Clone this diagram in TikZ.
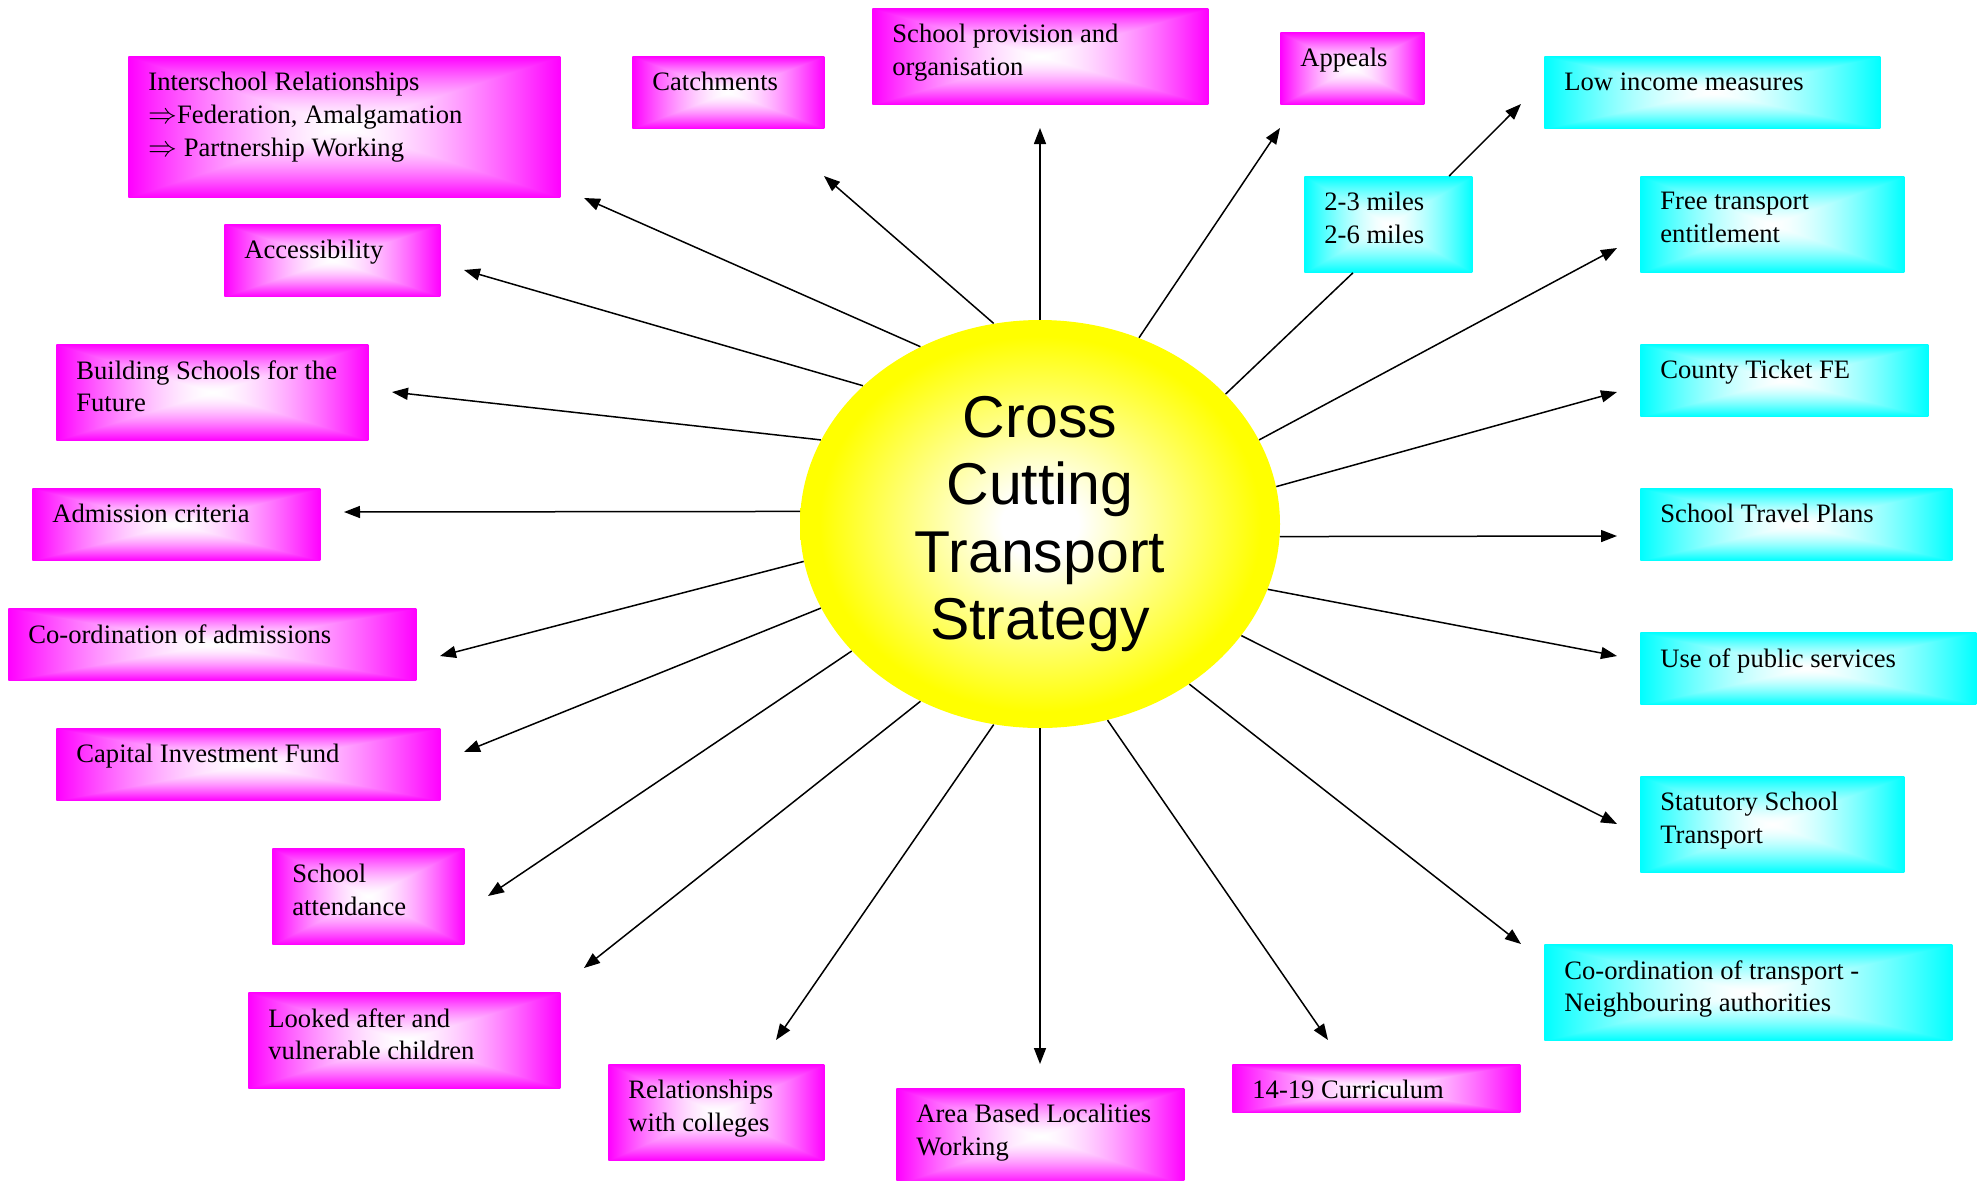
\documentclass[tikz,border=0pt]{standalone}
\usepackage{fontspec}
\setmainfont{Liberation Serif}
\newfontfamily\hubfont{Liberation Sans}
\usepackage{tikz}
\usetikzlibrary{arrows.meta,calc,shapes.geometric}

\definecolor{hubyellow}{RGB}{255,255,0}

% box fills: white in the middle, full colour at the edges
% (only the middle 50bp square of a shading ends up inside the path)
\pgfdeclarefunctionalshading{pinkfill}{\pgfpoint{-50bp}{-50bp}}{\pgfpoint{50bp}{50bp}}{}{
  abs exch abs 2 copy lt {exch} if pop 25 div
  dup 1 gt {pop 1} if dup sqrt mul
  1 exch sub 1 exch 1
}
\pgfdeclarefunctionalshading{cyanfill}{\pgfpoint{-50bp}{-50bp}}{\pgfpoint{50bp}{50bp}}{}{
  abs exch abs 2 copy lt {exch} if pop 25 div
  dup 1 gt {pop 1} if dup sqrt mul
  1 exch sub 1 1
}
\pgfdeclareradialshading{hubfill}{\pgfpointorigin}{color(0bp)=(white); color(4bp)=(white); color(23bp)=(hubyellow); color(50bp)=(hubyellow)}

\tikzset{
  pinkbox/.style={shade,shading=pinkfill,anchor=north west,inner sep=0pt},
  cyanbox/.style={shade,shading=cyanfill,anchor=north west,inner sep=0pt},
  boxsize/.style 2 args={minimum width=#1*0.5pt,minimum height=#2*0.5pt},
  boxtext/.style={anchor=north west,inner sep=0pt,align=left,font=\fontsize{13.3}{16.3}\selectfont},
  spoke/.style={line width=0.75pt,-{Triangle[length=8pt,width=6pt]}},
}

\begin{document}
\begin{tikzpicture}[x=0.5pt,y=0.5pt,yscale=-1]
\useasboundingbox (0,0) rectangle (1982,1180);

%Shape: Ellipse [hub]
\node[ellipse,shade,shading=hubfill,minimum width=240pt,minimum height=204pt,inner sep=0pt,
  align=center,font=\hubfont\fontsize{29.5}{33.7}\selectfont] (hub) at (1040,524)
  {Cross\\Cutting\\Transport\\Strategy};

%Shape: Boxes, left side and bottom
\node[pinkbox,boxsize={432}{141}] (inter) at (128,56) {};
\node[pinkbox,boxsize={192}{72}] (catch) at (632,56) {};
\node[pinkbox,boxsize={336}{96}] (prov) at (872,8) {};
\node[pinkbox,boxsize={144}{72}] (appeals) at (1280,32) {};
\node[pinkbox,boxsize={216}{72}] (access) at (224,224) {};
\node[pinkbox,boxsize={312}{96}] (bsf) at (56,344) {};
\node[pinkbox,boxsize={288}{72}] (admcrit) at (32,488) {};
\node[pinkbox,boxsize={408}{72}] (coadm) at (8,608) {};
\node[pinkbox,boxsize={384}{72}] (capital) at (56,728) {};
\node[pinkbox,boxsize={192}{96}] (attend) at (272,848) {};
\node[pinkbox,boxsize={312}{96}] (lac) at (248,992) {};
\node[pinkbox,boxsize={216}{96}] (colleges) at (608,1064) {};
\node[pinkbox,boxsize={288}{96}] (area) at (896,1088) {};
\node[pinkbox,boxsize={288}{48}] (curric) at (1232,1064) {};

%Shape: Boxes, right side
\node[cyanbox,boxsize={336}{72}] (lowinc) at (1544,56) {};
\node[cyanbox,boxsize={168}{96}] (miles) at (1304,176) {};
\node[cyanbox,boxsize={264}{96}] (free) at (1640,176) {};
\node[cyanbox,boxsize={288}{72}] (county) at (1640,344) {};
\node[cyanbox,boxsize={312}{72}] (stp) at (1640,488) {};
\node[cyanbox,boxsize={336}{72}] (public) at (1640,632) {};
\node[cyanbox,boxsize={264}{96}] (statutory) at (1640,776) {};
\node[cyanbox,boxsize={408}{96}] (coord) at (1544,944) {};

% Text Node
\node[boxtext] (inter-t) at ([shift={(20,16)}]inter.north west) {Interschool Relationships\\$\Rightarrow$Federation, Amalgamation\\$\Rightarrow$ Partnership Working};
\node[boxtext] (catch-t) at ([shift={(20,16)}]catch.north west) {Catchments};
\node[boxtext] (prov-t) at ([shift={(20,16)}]prov.north west) {School provision and\\organisation};
\node[boxtext] (appeals-t) at ([shift={(20,16)}]appeals.north west) {Appeals};
\node[boxtext] (access-t) at ([shift={(20,16)}]access.north west) {Accessibility};
\node[boxtext] (bsf-t) at ([shift={(20,16)}]bsf.north west) {Building Schools for the\\Future};
\node[boxtext] (admcrit-t) at ([shift={(20,16)}]admcrit.north west) {Admission criteria};
\node[boxtext] (coadm-t) at ([shift={(20,16)}]coadm.north west) {Co-ordination of admissions};
\node[boxtext] (capital-t) at ([shift={(20,16)}]capital.north west) {Capital Investment Fund};
\node[boxtext] (attend-t) at ([shift={(20,16)}]attend.north west) {School\\attendance};
\node[boxtext] (lac-t) at ([shift={(20,16)}]lac.north west) {Looked after and\\vulnerable children};
\node[boxtext] (colleges-t) at ([shift={(20,16)}]colleges.north west) {Relationships\\with colleges};
\node[boxtext] (area-t) at ([shift={(20,16)}]area.north west) {Area Based Localities\\Working};
\node[boxtext] (curric-t) at ([shift={(20,16)}]curric.north west) {14-19 Curriculum};
\node[boxtext] (lowinc-t) at ([shift={(20,16)}]lowinc.north west) {Low income measures};
\node[boxtext] (miles-t) at ([shift={(20,16)}]miles.north west) {2-3 miles\\2-6 miles};
\node[boxtext] (free-t) at ([shift={(20,16)}]free.north west) {Free transport\\entitlement};
\node[boxtext] (county-t) at ([shift={(20,16)}]county.north west) {County Ticket FE};
\node[boxtext] (stp-t) at ([shift={(20,16)}]stp.north west) {School Travel Plans};
\node[boxtext] (public-t) at ([shift={(20,16)}]public.north west) {Use of public services};
\node[boxtext] (statutory-t) at ([shift={(20,16)}]statutory.north west) {Statutory School\\Transport};
\node[boxtext] (coord-t) at ([shift={(20,16)}]coord.north west) {Co-ordination of transport -\\Neighbouring authorities};

% arrow ends
\coordinate (t-inter) at (584,198);
\coordinate (t-catch) at (824,176);
\coordinate (t-prov) at (1040,128);
\coordinate (t-appeals) at (1280,128);
\coordinate (t-low) at (1521,104);
\coordinate (t-free) at (1617,248);
\coordinate (t-county) at (1617,392);
\coordinate (t-stp) at (1617,536);
\coordinate (t-public) at (1617,656);
\coordinate (t-statutory) at (1617,824);
\coordinate (t-coord) at (1521,944);
\coordinate (t-curric) at (1328,1040);
\coordinate (t-area) at (1040,1064);
\coordinate (t-colleges) at (776,1040);
\coordinate (t-lac) at (584,968);
\coordinate (t-attend) at (488,896);
\coordinate (t-capital) at (464,752);
\coordinate (t-coadm) at (440,656);
\coordinate (t-admcrit) at (344,512);
\coordinate (t-bsf) at (392,392);
\coordinate (t-access) at (464,270);

%Straight Lines
\draw[spoke] (hub.124) -- (t-inter);
\draw[spoke] (hub.103) -- (t-catch);
\draw[spoke] (hub.90) -- (t-prov);
\draw[spoke] (hub.62) -- (t-appeals);
\draw[line width=0.75pt] (hub.35) -- ($(miles.south west)!0.29!(miles.south east)$);
\draw[spoke] ($(miles.north west)!0.86!(miles.north east)$) -- (t-low);
\draw[spoke] (hub.21) -- (t-free);
\draw[spoke] (hub.9) -- (t-county);
\draw[spoke] (hub.357) -- (t-stp);
\draw[spoke] (hub.344) -- (t-public);
\draw[spoke] (hub.331) -- (t-statutory);
\draw[spoke] (hub.313) -- (t-coord);
\draw[spoke] (hub.289) -- (t-curric);
\draw[spoke] (hub.270) -- (t-area);
\draw[spoke] (hub.257) -- (t-colleges);
\draw[spoke] (hub.236) -- (t-lac);
\draw[spoke] (hub.214) -- (t-attend);
\draw[spoke] (hub.201) -- (t-capital);
\draw[spoke] (hub.189) -- (t-coadm);
\draw[spoke] (hub.177) -- (t-admcrit);
\draw[spoke] (hub.159) -- (t-bsf);
\draw[spoke] (hub.142) -- (t-access);

\end{tikzpicture}
\end{document}
